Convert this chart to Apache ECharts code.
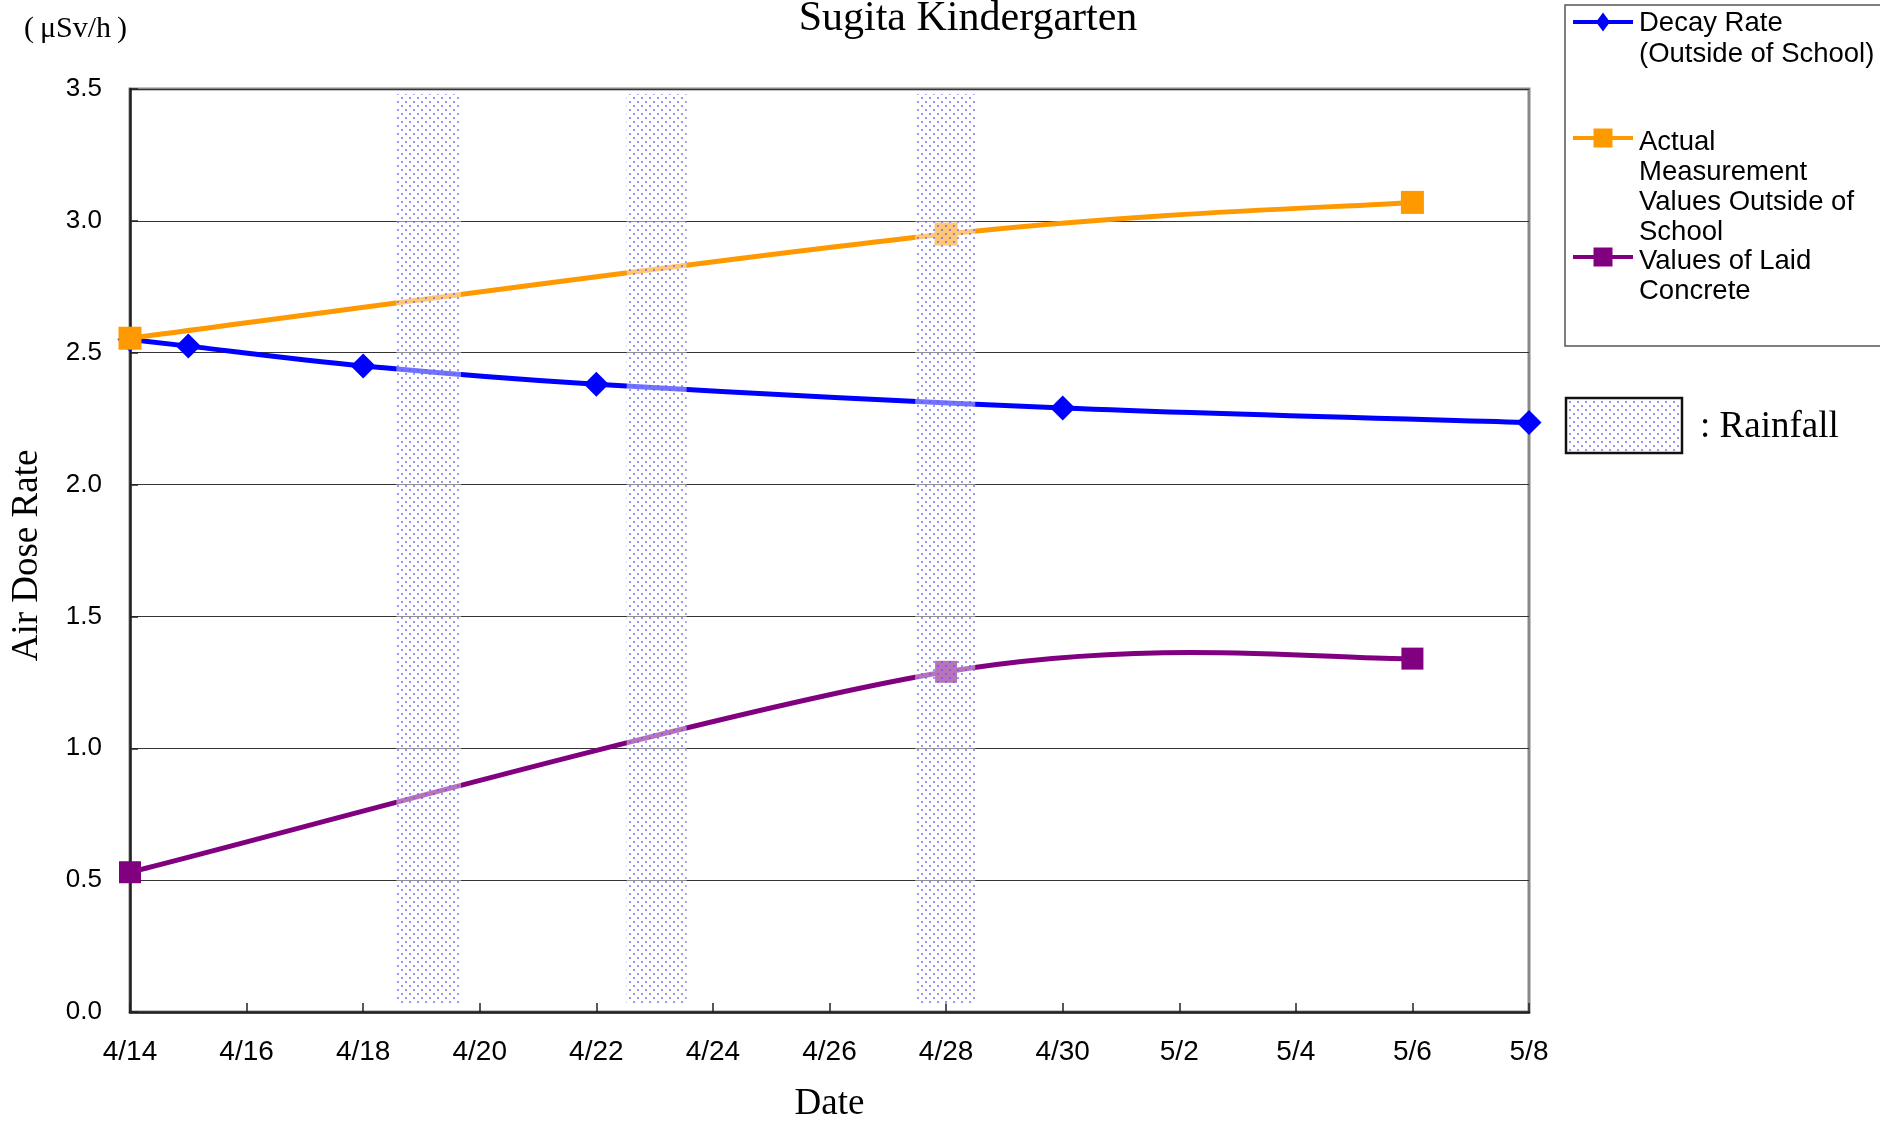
<!DOCTYPE html>
<html>
<head>
    <meta charset="utf-8">
    <title>Sugita Kindergarten</title>
    <script src="https://cdn.jsdelivr.net/npm/echarts@6/dist/echarts.min.js"></script>
    <style>
        html, body {
            margin: 0;
            padding: 0;
            background: #fff;
        }
        #chart {
            width: 1880px;
            height: 1121px;
        }
    </style>
</head>
<body>
<div id="chart"></div>
<script>
    // x tick labels, one every 2 days from 4/14
    var dateLabels = ['4/14', '4/16', '4/18', '4/20', '4/22', '4/24', '4/26', '4/28', '4/30', '5/2', '5/4', '5/6', '5/8'];

    // Decay Rate (Outside of School)
    var decayDates = ['4/14', '4/15', '4/18', '4/22', '4/30', '5/8'];
    var decayValues = [2.55, 2.525, 2.45, 2.38, 2.29, 2.235];

    // Actual Measurement Values Outside of School
    var actualDates = ['4/14', '4/28', '5/6'];
    var actualValues = [2.555, 2.95, 3.07];

    // Values of Laid Concrete
    var concreteDates = ['4/14', '4/28', '5/6'];
    var concreteValues = [0.53, 1.29, 1.34];

    // rainfall periods, in days after 4/14
    var rainFrom = [4.57, 8.52, 13.47];
    var rainTo = [5.68, 9.55, 14.5];

    function dayOffset(label) {
        var p = label.split('/');
        var t = Date.UTC(2011, +p[0] - 1, +p[1]);
        return Math.round((t - Date.UTC(2011, 3, 14)) / 86400000);
    }

    function pairs(dates, values) {
        return dates.map(function (d, i) { return [dayOffset(d), values[i]]; });
    }

    // dotted fill used for rainfall
    function dotPattern(bgAlpha) {
        var c = document.createElement('canvas');
        c.width = 8;
        c.height = 8;
        var ctx = c.getContext('2d');
        ctx.fillStyle = 'rgba(255,255,255,' + bgAlpha + ')';
        ctx.fillRect(0, 0, 8, 8);
        ctx.fillStyle = 'rgba(80,80,255,0.6)';
        ctx.fillRect(1, 1, 2, 2);
        ctx.fillRect(5, 5, 2, 2);
        return c;
    }

    // Excel style smoothed line: cubic pieces with tangents (P[i+1]-P[i-1])/6
    function smoothCurve(points, color) {
        return {
            type: 'custom',
            data: points,
            silent: true,
            renderItem: function (params, api) {
                if (params.dataIndex !== 0) return null;
                var p = points.map(function (d) { return api.coord(d); });
                var n = p.length;
                var kids = [];
                for (var i = 0; i < n - 1; i++) {
                    var a = p[Math.max(i - 1, 0)], b = p[i], c = p[i + 1], d = p[Math.min(i + 2, n - 1)];
                    kids.push({
                        type: 'bezierCurve',
                        shape: {
                            x1: b[0], y1: b[1], x2: c[0], y2: c[1],
                            cpx1: b[0] + (c[0] - a[0]) / 6, cpy1: b[1] + (c[1] - a[1]) / 6,
                            cpx2: c[0] - (d[0] - b[0]) / 6, cpy2: c[1] - (d[1] - b[1]) / 6
                        },
                        style: { stroke: color, lineWidth: 5, fill: null, lineCap: 'round' }
                    });
                }
                return { type: 'group', children: kids };
            }
        };
    }

    function markers(points, symbol, size, color) {
        return {
            type: 'scatter',
            data: points,
            symbol: symbol,
            symbolSize: size,
            silent: true,
            itemStyle: { color: color, opacity: 1 }
        };
    }

    var rainAreas = rainFrom.map(function (f, i) {
        return [{ xAxis: f, yAxis: 0.03 }, { xAxis: rainTo[i], yAxis: 3.48 }];
    });

    var SANS = '"Liberation Sans", Arial, sans-serif';
    var SERIF = '"Liberation Serif", "Times New Roman", serif';

    var decayPts = pairs(decayDates, decayValues);
    var actualPts = pairs(actualDates, actualValues);
    var concretePts = pairs(concreteDates, concreteValues);

    var chart = echarts.init(document.getElementById('chart'));

    var option = {
        animation: false,
        grid: {
            left: 130,
            right: 351,
            top: 89,
            bottom: 109,
            outerBoundsMode: 'none',
            show: true,
            borderColor: '#888',
            borderWidth: 3
        },
        xAxis: {
            type: 'value',
            min: 0,
            max: 24,
            interval: 2,
            name: 'Date',
            nameLocation: 'middle',
            nameGap: 74,
            nameTextStyle: { fontFamily: SERIF, fontSize: 37, color: '#000' },
            axisLine: { lineStyle: { color: '#222', width: 2.5 } },
            axisTick: { inside: true, length: 9, lineStyle: { color: '#222', width: 1.5 } },
            splitLine: { show: false },
            axisLabel: {
                margin: 26,
                fontFamily: SANS,
                fontSize: 28,
                color: '#000',
                formatter: function (v) { return dateLabels[v / 2]; }
            }
        },
        yAxis: {
            type: 'value',
            min: 0,
            max: 3.5,
            interval: 0.5,
            name: 'Air Dose Rate',
            nameLocation: 'middle',
            nameGap: 84,
            nameTextStyle: { fontFamily: SERIF, fontSize: 37, color: '#000', padding: [0, 10, 0, 0] },
            axisLine: { show: true, lineStyle: { color: '#222', width: 2.5 } },
            axisTick: { show: true, inside: true, length: 8, lineStyle: { color: '#222', width: 1.5 } },
            splitLine: { lineStyle: { color: '#333', width: 1.2 } },
            axisLabel: {
                margin: 28,
                fontFamily: SANS,
                fontSize: 26,
                color: '#000',
                formatter: function (v) { return v.toFixed(1); }
            }
        },
        series: [
            smoothCurve(decayPts, '#0000ff'),
            markers(decayPts, 'diamond', 25, '#0000ff'),
            smoothCurve(actualPts, '#ff9900'),
            markers(actualPts, 'rect', 23, '#ff9900'),
            smoothCurve(concretePts, '#800080'),
            markers(concretePts, 'rect', 22, '#800080'),
            {
                name: 'Rainfall',
                type: 'line',
                data: [],
                markArea: {
                    z: 10,
                    silent: true,
                    itemStyle: { color: { image: dotPattern(0.45), repeat: 'repeat' } },
                    data: rainAreas
                }
            }
        ],
        graphic: [
            {
                type: 'text',
                style: { text: 'Sugita Kindergarten', x: 968, y: 19, align: 'center', verticalAlign: 'middle',
                    font: '42px ' + SERIF, fill: '#000' }
            },
            {
                type: 'text',
                style: { text: '(\u2009μSv/h\u2009)', x: 24, y: 29, verticalAlign: 'middle',
                    font: '30px ' + SERIF, fill: '#000' }
            },
            // legend box
            {
                type: 'rect',
                shape: { x: 1565, y: 5, width: 340, height: 341 },
                style: { fill: '#fff', stroke: '#555', lineWidth: 1.5 }
            },
            { type: 'line', shape: { x1: 1573, y1: 22, x2: 1633, y2: 22 }, style: { stroke: '#0000ff', lineWidth: 4 } },
            { type: 'polygon', shape: { points: [[1603, 12.5], [1610, 22], [1603, 31.5], [1596, 22]] }, style: { fill: '#0000ff' } },
            { type: 'line', shape: { x1: 1573, y1: 138, x2: 1633, y2: 138 }, style: { stroke: '#ff9900', lineWidth: 4 } },
            { type: 'rect', shape: { x: 1593.5, y: 128.5, width: 19, height: 19 }, style: { fill: '#ff9900' } },
            { type: 'line', shape: { x1: 1573, y1: 257, x2: 1633, y2: 257 }, style: { stroke: '#800080', lineWidth: 4 } },
            { type: 'rect', shape: { x: 1593.5, y: 247.5, width: 19, height: 19 }, style: { fill: '#800080' } },
            {
                type: 'text',
                style: { text: 'Decay Rate\n(Outside of School)', x: 1639, y: 8, lineHeight: 31,
                    font: '27.5px ' + SANS, fill: '#000' }
            },
            {
                type: 'text',
                style: { text: 'Actual\nMeasurement\nValues Outside of\nSchool', x: 1639, y: 127, lineHeight: 30,
                    font: '27.5px ' + SANS, fill: '#000' }
            },
            {
                type: 'text',
                style: { text: 'Values of Laid\nConcrete', x: 1639, y: 246, lineHeight: 30,
                    font: '27.5px ' + SANS, fill: '#000' }
            },
            // rainfall key
            {
                type: 'rect',
                shape: { x: 1566, y: 398, width: 116, height: 55 },
                style: { fill: { image: dotPattern(1), repeat: 'repeat' }, stroke: '#111', lineWidth: 2.5 }
            },
            {
                type: 'text',
                style: { text: ': Rainfall', x: 1700, y: 427, verticalAlign: 'middle',
                    font: '37px ' + SERIF, fill: '#000' }
            }
        ]
    };

    chart.setOption(option);
</script>
</body>
</html>
